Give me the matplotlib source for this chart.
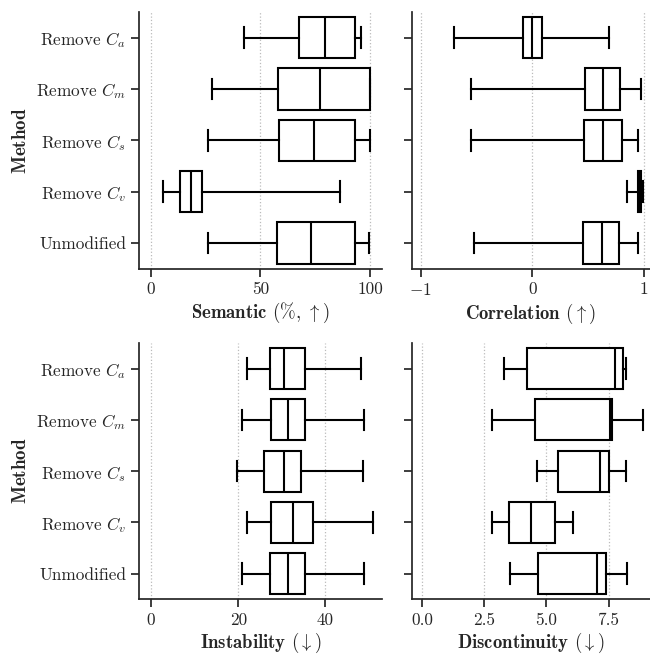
import matplotlib
matplotlib.use("Agg")
import matplotlib.pyplot as plt

plt.rcParams["font.family"] = "cmr10"
plt.rcParams["mathtext.fontset"] = "cm"
plt.rcParams["axes.formatter.use_mathtext"] = True
plt.rcParams["axes.unicode_minus"] = True
plt.rcParams["text.color"] = ".15"
plt.rcParams["axes.labelcolor"] = ".15"
plt.rcParams["xtick.color"] = ".15"
plt.rcParams["ytick.color"] = ".15"
plt.rcParams["axes.edgecolor"] = ".15"

methods = [r"Remove $C_a$", r"Remove $C_m$", r"Remove $C_s$", r"Remove $C_v$", "Unmodified"]

# each entry: (whisker low, Q1, median, Q3, whisker high), same order as methods
semantic = [(42.3, 67.6, 79.6, 93.0, 95.8),
            (28.0, 58.1, 77.2, 100.0, 100.0),
            (26.2, 58.6, 74.3, 93.0, 100.0),
            (5.5, 13.2, 18.3, 23.1, 86.3),
            (26.2, 57.4, 73.2, 92.9, 99.5)]
correlation = [(-0.705, -0.08, 0.0, 0.085, 0.69),
               (-0.545, 0.47, 0.636, 0.79, 0.97),
               (-0.545, 0.465, 0.633, 0.807, 0.95),
               (0.85, 0.945, 0.96, 0.975, 0.995),
               (-0.518, 0.459, 0.624, 0.773, 0.944)]
instability = [(21.9, 27.3, 30.5, 35.3, 48.1),
               (20.8, 27.4, 31.5, 35.2, 48.9),
               (19.8, 25.8, 30.5, 34.4, 48.7),
               (21.9, 27.6, 32.5, 37.1, 50.8),
               (20.8, 27.2, 31.5, 35.2, 48.9)]
discontinuity = [(3.31, 4.22, 7.78, 8.09, 8.20),
                 (2.81, 4.54, 7.55, 7.65, 8.87),
                 (4.64, 5.47, 7.14, 7.53, 8.19),
                 (2.81, 3.49, 4.40, 5.36, 6.08),
                 (3.55, 4.65, 7.04, 7.39, 8.23)]

panels = [
    (semantic, r"$\mathbf{Semantic}$ (%, $\uparrow$)", (-5.3, 105.3), [0, 50, 100], ["0", "50", "100"]),
    (correlation, r"$\mathbf{Correlation}$ ($\uparrow$)", (-1.08, 1.055), [-1, 0, 1], [r"$-1$", "0", "1"]),
    (instability, r"$\mathbf{Instability}$ ($\downarrow$)", (-2.7, 52.9), [0, 20, 40], ["0", "20", "40"]),
    (discontinuity, r"$\mathbf{Discontinuity}$ ($\downarrow$)", (-0.42, 9.17), [0, 2.5, 5, 7.5], ["0.0", "2.5", "5.0", "7.5"]),
]

positions = [
    [0.2143, 0.5904, 0.3729, 0.3913],
    [0.6334, 0.5904, 0.3666, 0.3913],
    [0.2143, 0.0864, 0.3729, 0.3907],
    [0.6334, 0.0864, 0.3666, 0.3907],
]

fig = plt.figure(figsize=(6.5, 6.56), dpi=100)

lw = 1.5
for i, (data, label, xlim, ticks, ticklabels) in enumerate(panels):
    ax = fig.add_axes(positions[i])
    stats = []
    for name, (lo, q1, med, q3, hi) in zip(methods, data):
        stats.append(dict(label=name, whislo=lo, q1=q1, med=med, q3=q3, whishi=hi, fliers=[]))
    ax.bxp(stats, positions=range(len(methods)), widths=0.8, orientation="horizontal",
           showfliers=False, patch_artist=True,
           boxprops=dict(facecolor="white", edgecolor="black", linewidth=lw),
           medianprops=dict(color="black", linewidth=lw),
           whiskerprops=dict(color="black", linewidth=lw),
           capprops=dict(color="black", linewidth=lw))
    ax.set_xlim(*xlim)
    ax.set_ylim(len(methods) - 0.5, -0.5)
    ax.set_xticks(ticks)
    ax.set_xticklabels(ticklabels)
    ax.set_yticks(range(len(methods)))
    ax.set_axisbelow(True)
    ax.grid(axis="x", linestyle=":", color="#bbbbbb", linewidth=0.9)
    ax.grid(axis="y", visible=False)
    for side in ["top", "right"]:
        ax.spines[side].set_visible(False)
    for side in ["left", "bottom"]:
        ax.spines[side].set_linewidth(1.25)
    ax.tick_params(axis="both", length=6, width=1.25, labelsize=12.4, direction="out")
    ax.set_xlabel(label, fontsize=13.5, labelpad=2.5)
    if i % 2 == 0:
        ax.set_yticklabels(methods)
        ax.set_ylabel(r"$\mathbf{Method}$", fontsize=13.7)
    else:
        ax.set_yticklabels([])

fig.savefig("out.png", dpi=100)
